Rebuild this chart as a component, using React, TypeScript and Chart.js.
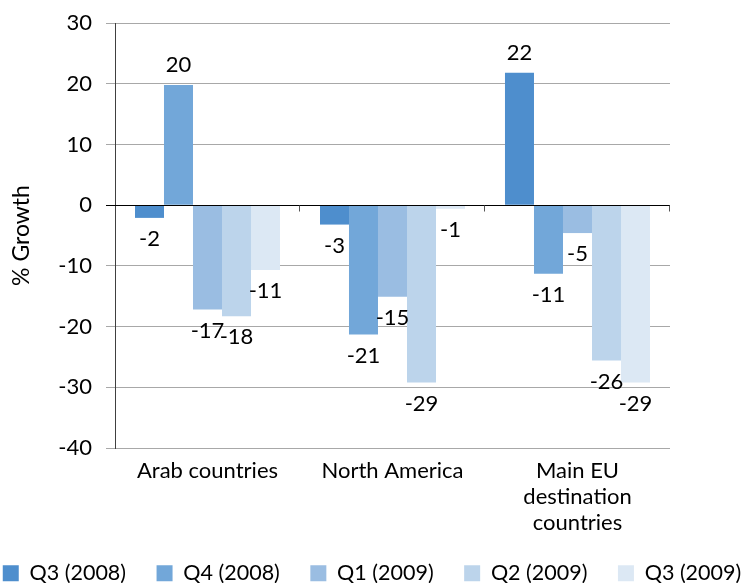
import React, { useEffect, useRef } from 'react';
import { Chart, registerables } from 'chart.js';

Chart.register(...registerables);

const categories = [['Arab countries'], ['North America'], ['Main EU', 'destination', 'countries']];
const seriesNames = ['Q3 (2008)', 'Q4 (2008)', 'Q1 (2009)', 'Q2 (2009)', 'Q3 (2009)'];
const q3_2008 = [-2.1, -3.2, 21.8];
const q4_2008 = [19.8, -21.3, -11.3];
const q1_2009 = [-17.2, -15.1, -4.6];
const q2_2009 = [-18.3, -29.2, -25.6];
const q3_2009 = [-10.7, -0.6, -29.2];
const seriesColors = ['#4e8ecd', '#72a7d9', '#9abde2', '#bcd4eb', '#dce8f4'];
const yTicks = [-40, -30, -20, -10, 0, 10, 20, 30];

const FONT = 'Lato, "Open Sans", sans-serif';

const labelPlugin = {
  id: 'barLabels',
  afterDatasetsDraw(chart: any) {
    const { ctx, chartArea } = chart;
    const yScale = chart.scales.y;
    const xScale = chart.scales.x;
    const y0 = Math.round(yScale.getPixelForValue(0)) + 0.5;
    ctx.save();
    ctx.strokeStyle = '#000000';
    ctx.lineWidth = 1.2;
    ctx.beginPath();
    ctx.moveTo(chartArea.left, y0);
    ctx.lineTo(chartArea.right, y0);
    ctx.stroke();
    const n = xScale.getLabels().length;
    ctx.strokeStyle = '#555555';
    ctx.lineWidth = 1;
    for (let i = 1; i <= n; i++) {
      const x = Math.round(chartArea.left + (i * (chartArea.right - chartArea.left)) / n) - 0.5;
      ctx.beginPath();
      ctx.moveTo(x, y0);
      ctx.lineTo(x, y0 + 6);
      ctx.stroke();
    }
    ctx.fillStyle = '#000000';
    ctx.font = `22px ${FONT}`;
    ctx.textAlign = 'center';
    ctx.textBaseline = 'middle';
    chart.data.datasets.forEach((ds: any, di: number) => {
      const meta = chart.getDatasetMeta(di);
      meta.data.forEach((bar: any, i: number) => {
        const v = ds.data[i];
        const txt = String(Math.round(v));
        const y = v >= 0 ? bar.y - 20 : bar.y + 21;
        ctx.fillText(txt, bar.x, y);
      });
    });
    ctx.restore();
  },
};

export default function App() {
  const ref = useRef<HTMLCanvasElement | null>(null);
  useEffect(() => {
    if (!ref.current) return;
    const seriesData = [q3_2008, q4_2008, q1_2009, q2_2009, q3_2009];
    const chart = new Chart(ref.current, {
      type: 'bar',
      data: {
        labels: categories as any,
        datasets: seriesNames.map((name, i) => ({
          label: name,
          data: seriesData[i],
          backgroundColor: seriesColors[i],
          borderWidth: 0,
          categoryPercentage: 0.784,
          barPercentage: 1,
        })),
      },
      options: {
        responsive: false,
        animation: false,
        devicePixelRatio: 1,
        layout: { padding: { top: 23, bottom: 0, left: 0, right: 0 } },
        plugins: {
          legend: {
            position: 'bottom',
            labels: {
              boxWidth: 16,
              boxHeight: 16,
              padding: 30.5,
              color: '#000000',
              font: { family: FONT, size: 21.5 },
            },
          },
          tooltip: { enabled: false },
        },
        scales: {
          x: {
            grid: { display: false, drawTicks: false, tickLength: 0 },
            border: { display: false },
            afterFit: (s: any) => {
              s.height = 84;
            },
            ticks: {
              color: '#000000',
              padding: 10,
              maxRotation: 0,
              autoSkip: false,
              font: { family: FONT, size: 22, lineHeight: 1.18 },
            },
          },
          y: {
            min: -40,
            max: 30,
            afterBuildTicks: (s: any) => {
              s.ticks = yTicks.map((v) => ({ value: v }));
            },
            afterFit: (s: any) => {
              s.width = 163;
            },
            grid: {
              color: (c: any) => (c.tick && c.tick.value === 0 ? '#000000' : '#a8a8a8'),
              tickLength: 9,
            },
            border: { color: '#404040', width: 1 },
            ticks: {
              color: '#000000',
              padding: 14,
              font: { family: FONT, size: 22, lineHeight: 0.8 },
            },
            title: {
              display: true,
              text: '% Growth',
              color: '#000000',
              font: { family: FONT, size: 23 },
              padding: { top: 56, bottom: 0 },
            },
          },
          y2: {
            position: 'right',
            display: true,
            grid: { display: false },
            border: { display: false },
            ticks: { display: false },
            afterFit: (s: any) => {
              s.width = 122;
            },
          },
        },
      },
      plugins: [labelPlugin],
    });
    return () => chart.destroy();
  }, []);
  return (
    <div style={{ position: 'absolute', left: -48, top: 0, width: 840, height: 594 }}>
      <canvas ref={ref} width={840} height={594} style={{ width: 840, height: 594 }} />
    </div>
  );
}
